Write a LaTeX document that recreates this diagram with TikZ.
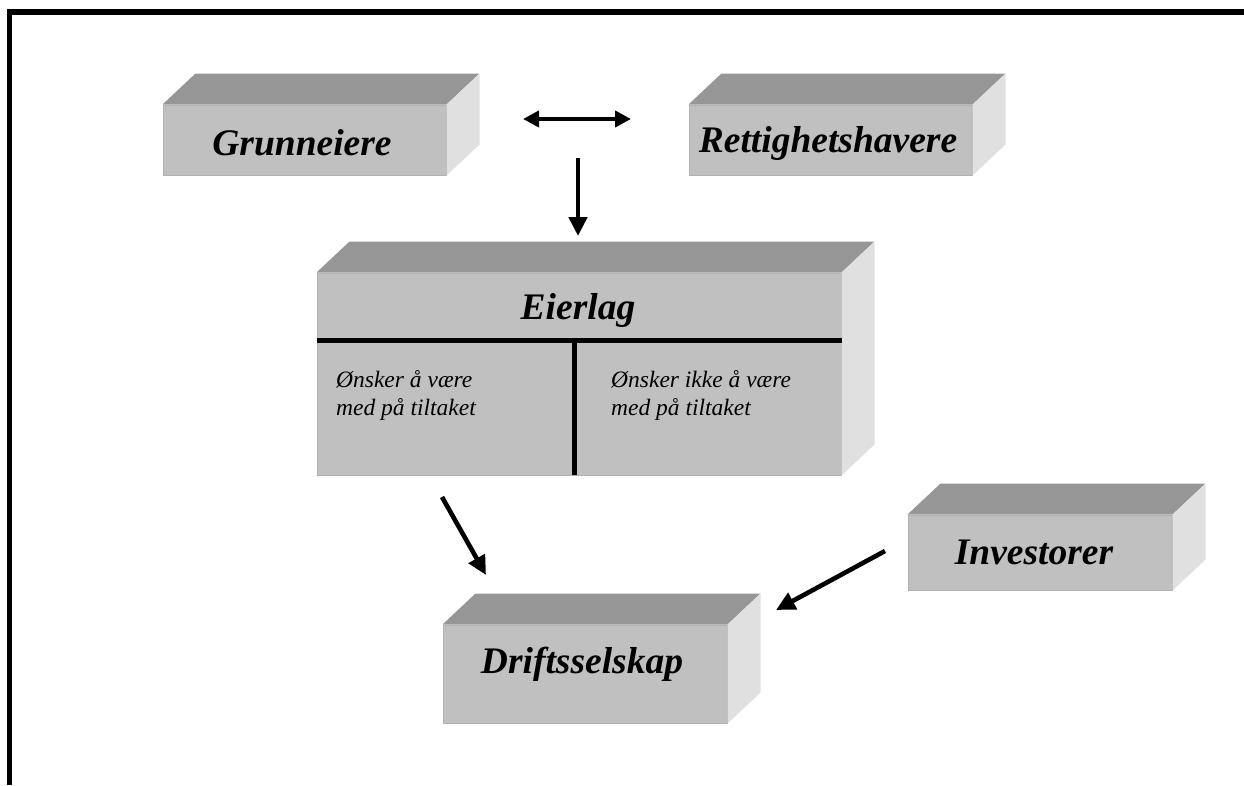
\documentclass[tikz,border=0pt]{standalone}
\usepackage{fontspec}
\setmainfont{Liberation Serif}
\usetikzlibrary{arrows.meta,calc}
\definecolor{frontc}{HTML}{C0C0C0}
\definecolor{topc}{HTML}{969696}
\definecolor{sidec}{HTML}{E0E0E0}
\definecolor{edgec}{HTML}{B2B2B2}
\newcommand\boxfaces[1]{%
  \fill[topc] (#1.north west) -- ++(33,-31) -- ($(#1.north east)+(33,-31)$) -- (#1.north east) -- cycle;
  \fill[sidec] (#1.north east) -- ++(33,-31) -- ($(#1.south east)+(33,-31)$) -- (#1.south east) -- cycle;
}
\tikzset{
  front/.style={rectangle, fill=frontc, draw=edgec, line width=1pt, inner sep=0pt},
  title/.style={font=\fontsize{37.5}{44}\selectfont\bfseries\itshape, inner sep=0pt},
  sub/.style={font=\fontsize{23.5}{28}\selectfont\itshape, align=left, anchor=north west, inner sep=0pt},
  arr/.style={line width=4.6pt, -{Triangle[length=19pt,width=18pt]}},
  darr/.style={line width=4.6pt, {Triangle[length=16pt,width=16pt]}-{Triangle[length=16pt,width=16pt]}},
  divider/.style={line width=5pt, black},
}
\begin{document}
\begin{tikzpicture}[x=1pt,y=-1pt]
\useasboundingbox (0,0) rectangle (1244,785);
% frame
\draw[line width=5.5pt] (9.5,785) -- (9.5,12) -- (1244,12);

% boxes
\node[front, minimum width=283pt, minimum height=70pt] (grun) at (304.5,140) {};
\boxfaces{grun}
\node[title] (grunt) at (302,143) {Grunneiere};

\node[front, minimum width=283pt, minimum height=70pt] (rett) at (830.5,140) {};
\boxfaces{rett}
\node[title] (rettt) at (828,143) {Rettighetshavere};

\node[front, minimum width=524pt, minimum height=202pt] (eier) at (579,374) {};
\boxfaces{eier}
\node[title] (eiert) at (578,310) {Eierlag};
\draw[divider] (eier.west |- 0,340) coordinate (dl) -- (eier.east |- 0,340) coordinate (dr);
\draw[divider] (574,340) coordinate (dt) -- (574,475) coordinate (db);
\node[sub] (ja) at (336,370) {Ønsker å være\\med på tiltaket};
\node[sub] (nei) at (611,370) {Ønsker ikke å være\\med på tiltaket};

\node[front, minimum width=264pt, minimum height=75pt] (inv) at (1040,552.5) {};
\boxfaces{inv}
\node[title] (invt) at (1034,552) {Investorer};

\node[front, minimum width=284pt, minimum height=98pt] (drift) at (585,674) {};
\boxfaces{drift}
\node[title] (driftt) at (582,664) {Driftsselskap};

% connectors
\coordinate (dA) at (523,119);
\coordinate (dB) at (631,119);
\draw[darr] (dA) -- (dB);
\coordinate (vA) at (578,158);
\coordinate (vB) at (578,236);
\draw[arr] (vA) -- (vB);
\coordinate (eA) at (442,497);
\coordinate (eB) at (486,575);
\draw[arr] (eA) -- (eB);
\coordinate (iA) at (885,551);
\coordinate (iB) at (776,610);
\draw[arr] (iA) -- (iB);
\end{tikzpicture}
\end{document}
